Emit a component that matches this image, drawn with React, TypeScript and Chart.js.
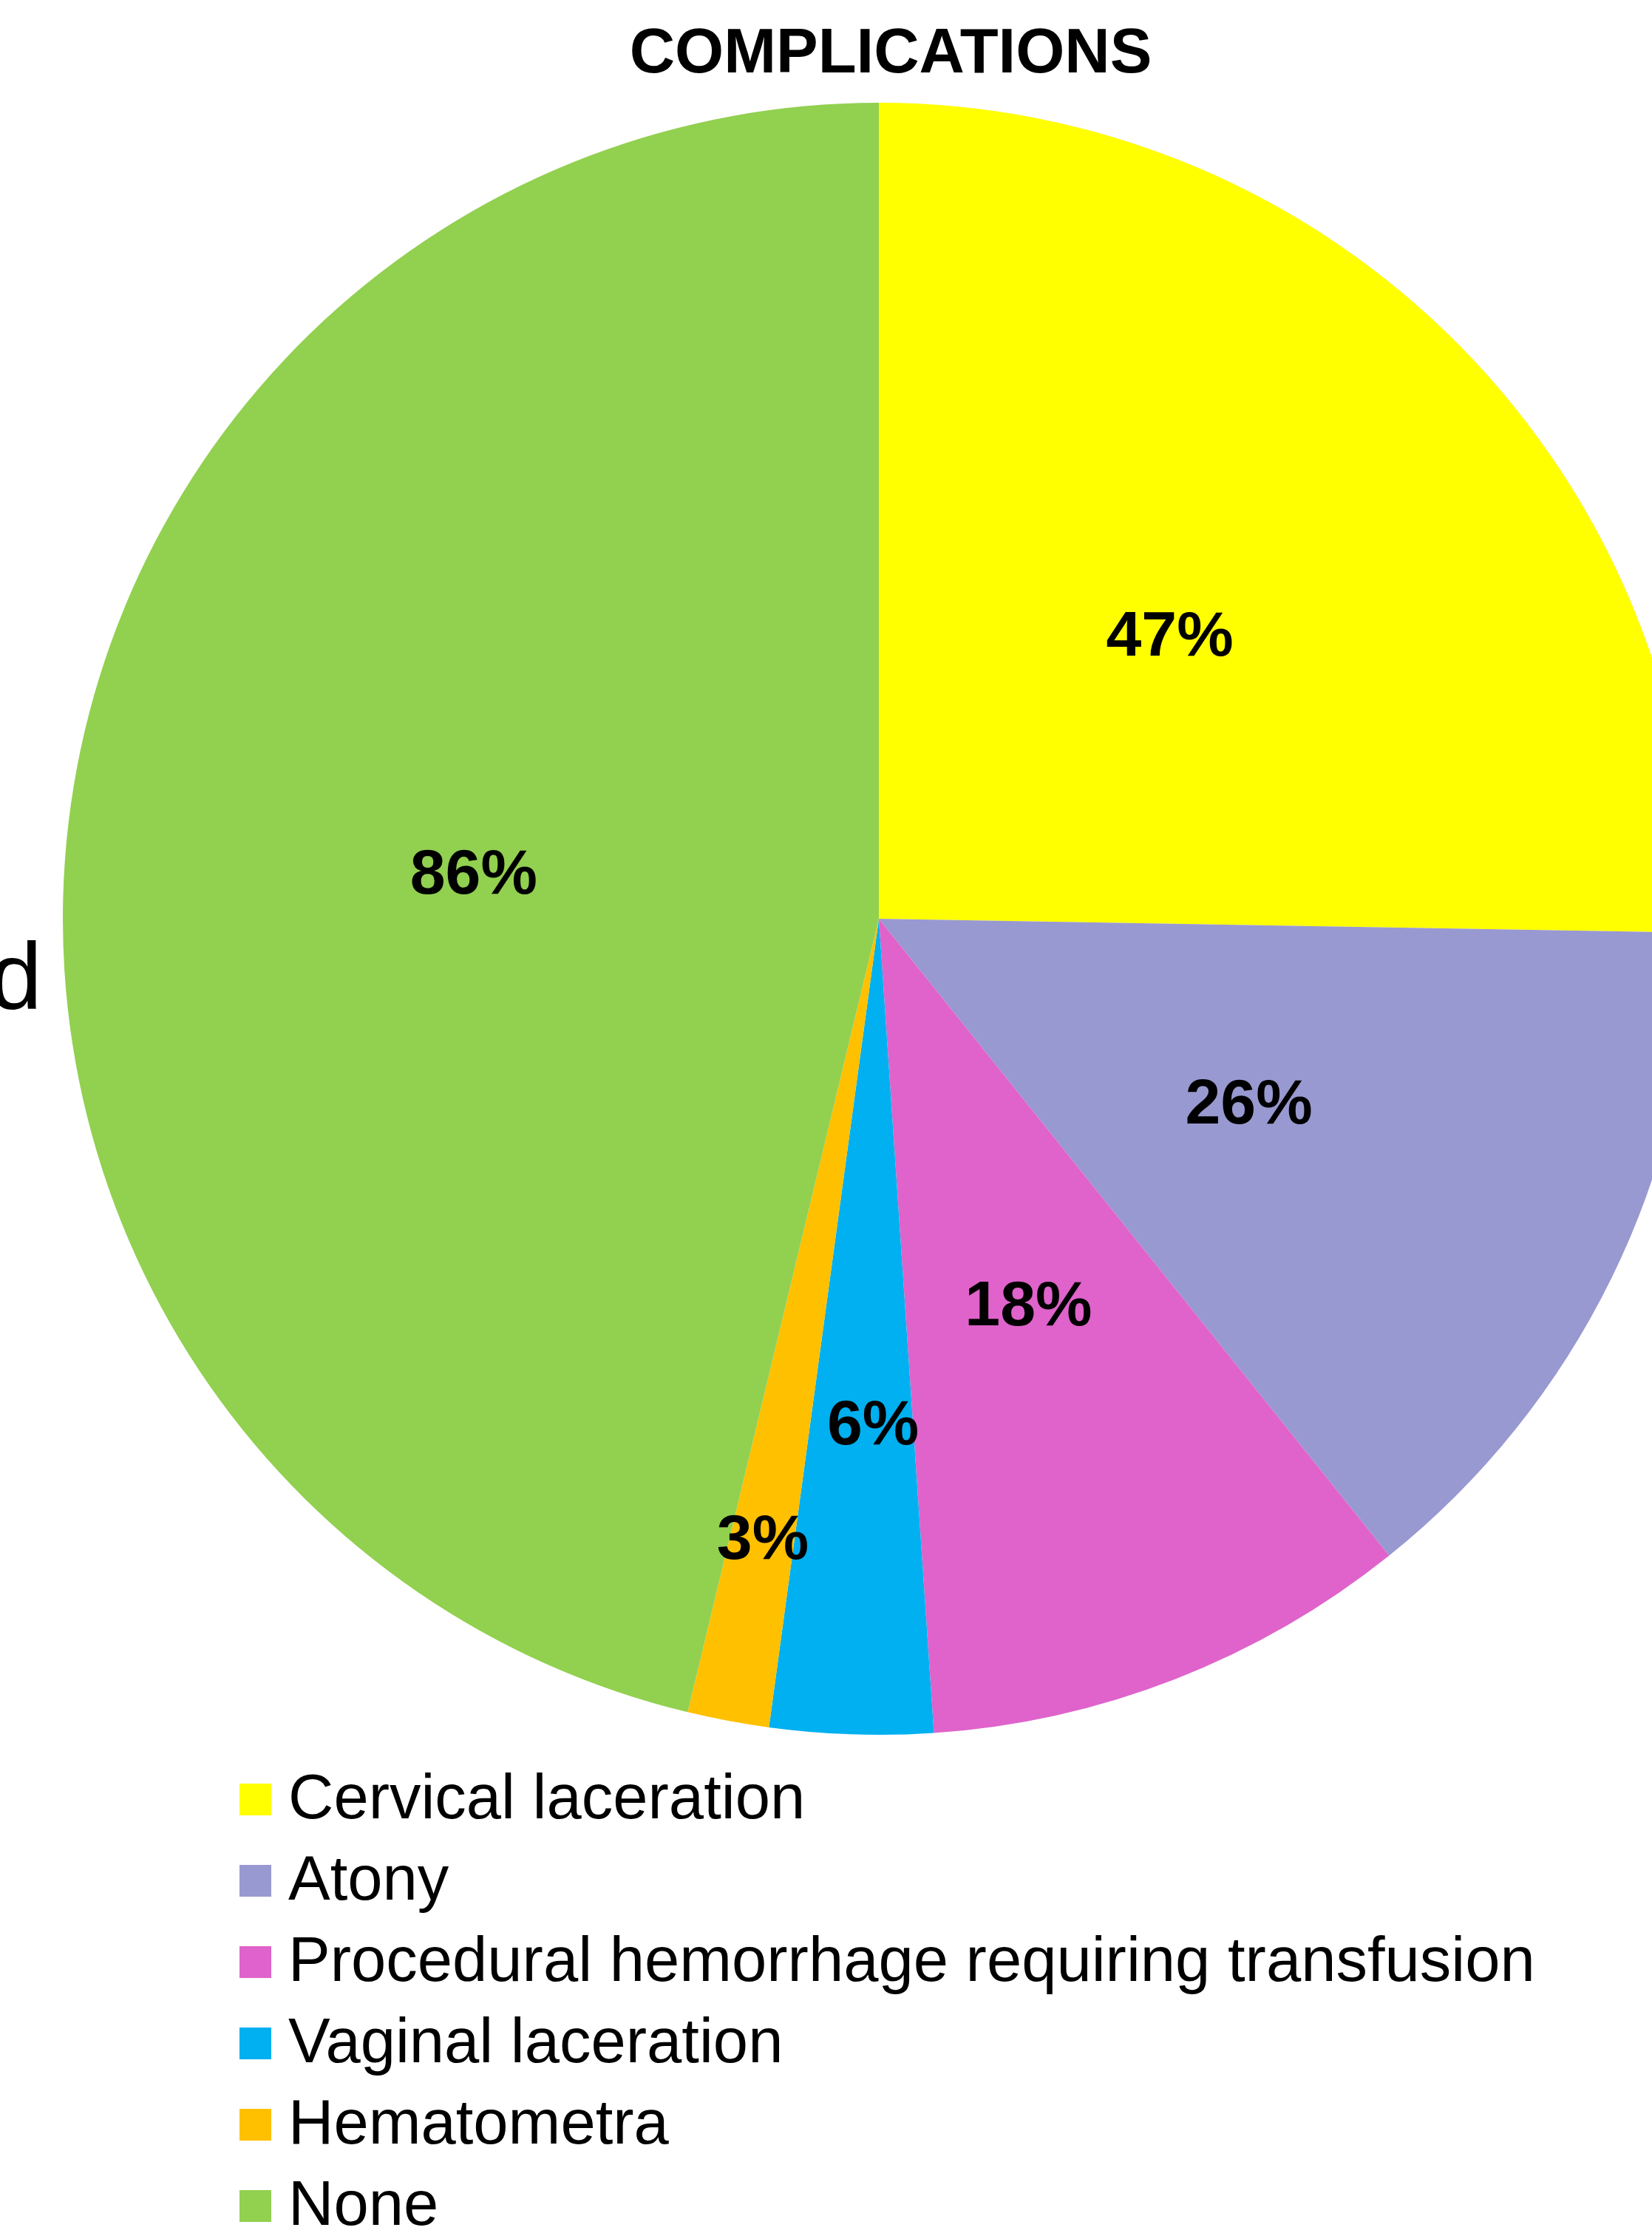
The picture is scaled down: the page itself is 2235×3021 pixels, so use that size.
import React, { useEffect, useRef } from "react";
import { Chart, registerables } from "chart.js";

Chart.register(...registerables);

const categories = [
  "Cervical laceration",
  "Atony",
  "Procedural hemorrhage requiring transfusion",
  "Vaginal laceration",
  "Hematometra",
  "None",
];
const values = [47, 26, 18, 6, 3, 86];
const valueLabels = ["47%", "26%", "18%", "6%", "3%", "86%"];
const colors = ["#FFFF00", "#9999D1", "#DF63CB", "#00B0F0", "#FFC000", "#92D050"];
const titleText = "COMPLICATIONS";
const sideText = "d";

const FONT = "'Liberation Sans', Arial, sans-serif";
const labelRadius = [0.5, 0.505, 0.505, 0.616, 0.77, 0.5];
const labelNudgeX = [0, 0, 0, 15, 0, 0];

const W = 2380;
const H = 3021;

const decorPlugin = {
  id: "decor",
  afterDatasetsDraw(chart: any) {
    const ctx = chart.ctx;
    const meta = chart.getDatasetMeta(0);
    ctx.save();
    ctx.fillStyle = "#000";
    ctx.font = `bold 86px ${FONT}`;
    ctx.textAlign = "center";
    ctx.textBaseline = "alphabetic";
    meta.data.forEach((arc: any, i: number) => {
      const mid = (arc.startAngle + arc.endAngle) / 2;
      const r = arc.outerRadius * labelRadius[i];
      const x = arc.x + Math.cos(mid) * r + labelNudgeX[i];
      const y = arc.y + Math.sin(mid) * r;
      ctx.fillText(valueLabels[i], x, y + 31);
    });
    ctx.font = `bold 85px ${FONT}`;
    ctx.fillText(titleText, 1205, 98);
    ctx.font = `128px ${FONT}`;
    ctx.textAlign = "right";
    ctx.fillText(sideText, 57, 1365);
    ctx.textAlign = "left";
    ctx.font = `85px ${FONT}`;
    categories.forEach((c, i) => {
      const base = 2460 + i * 110;
      ctx.fillStyle = colors[i];
      ctx.fillRect(324, base - 47, 43, 43);
      ctx.fillStyle = "#000";
      ctx.fillText(c, 390, base);
    });
    ctx.restore();
  },
};

export default function App() {
  const ref = useRef<HTMLCanvasElement>(null);
  useEffect(() => {
    document.body.style.margin = "0";
    document.body.style.overflow = "hidden";
    const chart = new Chart(ref.current!, {
      type: "pie",
      data: {
        labels: categories,
        datasets: [
          {
            data: values,
            backgroundColor: colors,
            borderWidth: 0,
            hoverOffset: 0,
          },
        ],
      },
      options: {
        responsive: false,
        animation: false,
        devicePixelRatio: 1,
        layout: { padding: { left: 85, right: W - 2293, top: 139, bottom: H - 2347 } },
        plugins: {
          legend: { display: false },
          title: { display: false },
          tooltip: { enabled: false },
        },
      },
      plugins: [decorPlugin],
    });
    return () => chart.destroy();
  }, []);
  return (
    <div style={{ position: "absolute", left: 0, top: 0, width: 2235, height: 3021, overflow: "hidden", background: "#fff" }}>
      <canvas ref={ref} width={W} height={H} style={{ width: W, height: H, display: "block" }} />
    </div>
  );
}
